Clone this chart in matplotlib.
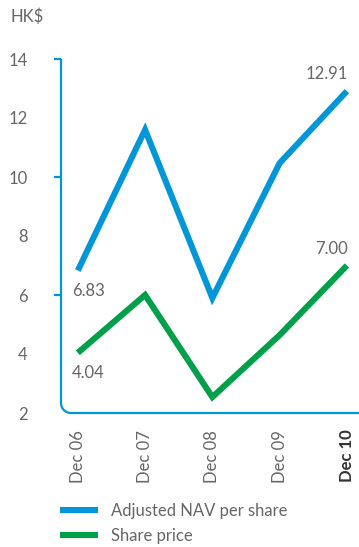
import numpy as np
import matplotlib
matplotlib.use('Agg')
import matplotlib.pyplot as plt
from matplotlib.lines import Line2D

# Data
periods = ['Dec 06', 'Dec 07', 'Dec 08', 'Dec 09', 'Dec 10']
nav = [6.83, 11.6, 5.9, 10.47, 12.91]
share_price = [4.04, 6.0, 2.54, 4.64, 7.00]
yticks = [2, 4, 6, 8, 10, 12, 14]
spine_ticks = [6, 10, 14]

blue = '#0096D8'
green = '#00A04A'
grey = '#666666'
plt.rcParams['font.family'] = ['Lato', 'DejaVu Sans']

fig = plt.figure(figsize=(3.59, 5.47), dpi=100)
W, H = 359, 547
# axes from x=61 to 359, y=59 (14) to 413 (2)
ax = fig.add_axes([61 / W, 1 - 413 / H, (359 - 61) / W, (413 - 59) / H])
x = np.arange(len(periods))
ax.plot(x, nav, color=blue, lw=4.4, solid_capstyle='butt', solid_joinstyle='miter', clip_on=False)
ax.plot(x, share_price, color=green, lw=4.4, solid_capstyle='butt', solid_joinstyle='miter', clip_on=False)

x0, x1 = -0.25, 4.18
ax.set_xlim(x0, x1)
ax.set_ylim(2, 14)
for s in ax.spines.values():
    s.set_visible(False)

# rounded corner axis line
px_x = (359 - 61) / (x1 - x0)
px_y = (413 - 59) / 12.0
r = 10
t = np.linspace(np.pi, 1.5 * np.pi, 20)
cx, cy = x0 + r / px_x, 2 + r / px_y
arc_x = cx + (r / px_x) * np.cos(t)
arc_y = cy + (r / px_y) * np.sin(t)
xs = np.concatenate([[x0], arc_x, [x1]])
ys = np.concatenate([[14], arc_y, [2]])
ax.plot(xs, ys, color=blue, lw=1.6, clip_on=False, solid_capstyle='butt')

ax.set_yticks(yticks)
ax.set_yticklabels([str(v) for v in yticks])
ax.tick_params(axis='y', which='major', length=0, pad=24, labelsize=12, labelcolor=grey)
for lab in ax.get_yticklabels():
    lab.set_horizontalalignment('right')

# small blue tick marks on the axis line
ax2 = ax.twinx()
ax2.set_ylim(2, 14)
ax2.yaxis.tick_left()
ax2.set_yticks(spine_ticks)
ax2.tick_params(axis='y', length=5, width=1.6, color=blue, direction='out', labelleft=False, labelright=False)
for s in ax2.spines.values():
    s.set_visible(False)

ax.set_xticks(x)
ax.set_xticklabels(periods, rotation=90, fontsize=12, color=grey)
ax.tick_params(axis='x', length=0, pad=12)
xl = ax.get_xticklabels()
xl[-1].set_fontweight('bold')
xl[-1].set_color('#333333')

fig.text(10 / W, 1 - 17 / H, 'HK$', fontsize=12, color=grey, va='center', ha='left')

# value labels
ax.annotate(f'{nav[0]:.2f}', (x[0], nav[0]), xytext=(-6, -20), textcoords='offset pixels',
            ha='left', va='center', fontsize=12, color=grey)
ax.annotate(f'{share_price[0]:.2f}', (x[0], share_price[0]), xytext=(-6, -20), textcoords='offset pixels',
            ha='left', va='center', fontsize=12, color=grey)
ax.annotate(f'{nav[-1]:.2f}', (x[-1], nav[-1]), xytext=(1, 17), textcoords='offset pixels',
            ha='right', va='center', fontsize=12, color=grey)
ax.annotate(f'{share_price[-1]:.2f}', (x[-1], share_price[-1]), xytext=(1, 17), textcoords='offset pixels',
            ha='right', va='center', fontsize=12, color=grey)

handles = [Line2D([], [], color=blue, lw=4.4, solid_capstyle='butt'),
           Line2D([], [], color=green, lw=4.4, solid_capstyle='butt')]
fig.legend(handles, ['Adjusted NAV per share', 'Share price'], loc='upper left',
           bbox_to_anchor=(60 / W, 1 - 503 / H), frameon=False, fontsize=12,
           handlelength=2.3, handletextpad=0.75, labelspacing=0.55, labelcolor=grey,
           borderpad=0, borderaxespad=0)

fig.savefig('out.png', dpi=100)
